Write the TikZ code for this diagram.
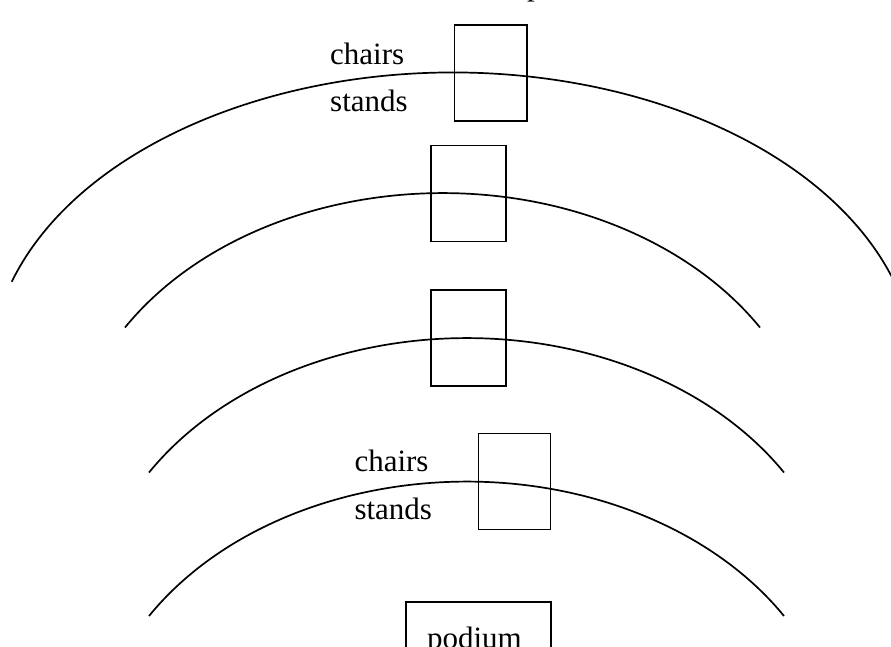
\documentclass[tikz,border=0pt]{standalone}
\usepackage{fontspec}
\setmainfont{Liberation Serif}
\begin{document}
\begin{tikzpicture}[x=1pt,y=-1pt,line width=1.6pt,
  seat/.style={draw,minimum width=#1,minimum height=96pt,inner sep=0pt,outer sep=0pt},
  lbl/.style={anchor=base west,inner sep=0pt,outer sep=0pt,font=\fontsize{31}{37}\selectfont},
  row/.style={line width=1.7pt}]
\useasboundingbox (0,0) rectangle (891,646);
\clip (0,0) rectangle (891,646);
% rows of seats (arcs)
\coordinate (r1) at (11.7,281.8);
\coordinate (r2) at (125,327.5);
\coordinate (r3) at (149,472.5);
\coordinate (r4) at (149,616);
\draw[row] (r1) arc[start angle=-162.4,end angle=-17.6,x radius=463,y radius=300];
\draw[row] (r2) arc[start angle=-148.1,end angle=-31.9,x radius=374,y radius=285];
\draw[row] (r3) arc[start angle=-148.1,end angle=-31.9,x radius=374,y radius=285];
\draw[row] (r4) arc[start angle=-148.1,end angle=-31.9,x radius=374,y radius=285];
% boxes
\node[seat=72.5pt] (b1) at (490.75,73) {};
\node[seat=75pt] (b2) at (468.5,193.6) {};
\node[seat=75pt] (b3) at (468.5,337.9) {};
\node[seat=72pt] (b4) at (514.6,481.5) {};
\node[draw,minimum width=144.7pt,minimum height=98pt,inner sep=0pt] (pod) at (478.35,650.7) {};
% labels
\node[lbl] (c1) at (330.2,64) {chairs};
\node[lbl] (s1) at (330.2,111) {stands};
\node[lbl] (c2) at (354.5,471.7) {chairs};
\node[lbl] (s2) at (354.5,519.3) {stands};
\node[lbl] (pt) at (427,648) {podium};
\node[lbl] (top) at (527,-4.5) {p};
\end{tikzpicture}
\end{document}
